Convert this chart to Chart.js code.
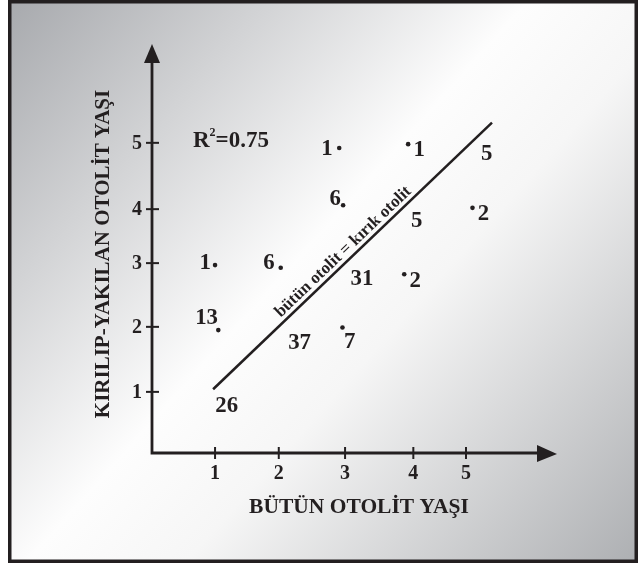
<!DOCTYPE html>
<html>
<head>
<meta charset="utf-8">
<script src="https://cdn.jsdelivr.net/npm/chart.js@4"></script>
<style>
  body { margin: 0; background: #fff; }
</style>
</head>
<body>
<canvas id="yasChart" width="638" height="563"></canvas>
<script>
// eksen birimleri: 1 birim = bir tik aralığı (yaklaşık), tikler resimdeki yerlerinde
var xTickLabels = ['1', '2', '3', '4', '5'];
var xTickAt = [0.97, 1.95, 2.97, 4.02, 4.83];
var yTickLabels = ['1', '2', '3', '4', '5'];
var yTickAt = [0.94, 1.94, 2.92, 3.75, 4.77];

// balık sayıları (nokta yanındaki rakamlar)
var countLabels = ['1', '1', '5', '6', '5', '2', '1', '6', '31', '2', '13', '37', '7', '26'];
var labelX = [2.69, 4.11, 5.15, 2.82, 4.07, 5.10, 0.82, 1.80, 3.23, 4.05, 0.84, 2.27, 3.04, 1.15];
var labelY = [4.69, 4.68, 4.62, 3.93, 3.59, 3.69, 2.94, 2.94, 2.69, 2.66, 2.09, 1.71, 1.73, 0.74];

// küçük noktalar
var dotX = [2.88, 3.94, 2.94, 4.93, 0.97, 1.98, 3.88, 1.02, 2.93];
var dotY = [4.69, 4.75, 3.81, 3.77, 2.89, 2.85, 2.75, 1.89, 1.93];

// bütün otolit = kırık otolit doğrusu
var lineX = [0.94, 5.23];
var lineY = [0.98, 5.08];
var lineText = 'bütün otolit = kırık otolit';
var r2Value = '0.75';

var ink = '#231f20';
var serif = '"Liberation Serif", "DejaVu Serif", serif';

function pts(xs, ys) {
    var out = [];
    for (var i = 0; i < xs.length; i++) out.push({x: xs[i], y: ys[i]});
    return out;
}

var plugin = {
    id: 'cizim',
    beforeDraw: function(chart) {//arka plan + çerçeve
        var c = chart.ctx;
        var W = chart.width, H = chart.height;
        c.save();
        c.fillStyle = '#ffffff';
        c.fillRect(0, 0, W, H);
        var g = c.createLinearGradient(8, 0, W, H);
        g.addColorStop(0, '#a7a9ad');
        g.addColorStop(0.46, '#fdfdfd');
        g.addColorStop(0.6, '#f6f6f6');
        g.addColorStop(1, '#adafb2');
        c.fillStyle = g;
        c.fillRect(8, 0, W - 8, H);
        c.strokeStyle = ink;
        c.lineWidth = 3.5;
        c.strokeRect(9.75, 1.75, W - 11.5, H - 3.5);
        c.restore();
    },
    afterDatasetsDraw: function(chart) {
        var c = chart.ctx;
        var xs = chart.scales.x, ys = chart.scales.y;
        var x0 = xs.getPixelForValue(0), y0 = ys.getPixelForValue(0);
        var xEnd = xs.getPixelForValue(xs.max), yEnd = ys.getPixelForValue(ys.max);
        c.save();
        c.strokeStyle = ink;
        c.fillStyle = ink;
        c.lineWidth = 2.8;
        // eksenler
        c.beginPath();
        c.moveTo(x0, yEnd + 16);
        c.lineTo(x0, y0);
        c.lineTo(xEnd - 16, y0);
        c.stroke();
        // oklar
        c.beginPath();
        c.moveTo(x0, yEnd);
        c.lineTo(x0 - 8, yEnd + 19);
        c.lineTo(x0 + 8, yEnd + 19);
        c.closePath();
        c.fill();
        c.beginPath();
        c.moveTo(xEnd, y0 + 1);
        c.lineTo(xEnd - 20, y0 - 8);
        c.lineTo(xEnd - 20, y0 + 9);
        c.closePath();
        c.fill();
        // tikler
        c.lineWidth = 2;
        c.font = 'bold 20px ' + serif;
        for (var i = 0; i < xTickAt.length; i++) {
            var px = xs.getPixelForValue(xTickAt[i]);
            c.beginPath();
            c.moveTo(px, y0 - 6);
            c.lineTo(px, y0 + 6);
            c.stroke();
            c.textAlign = 'center';
            c.textBaseline = 'top';
            c.fillText(xTickLabels[i], px, y0 + 11);
        }
        for (var j = 0; j < yTickAt.length; j++) {
            var py = ys.getPixelForValue(yTickAt[j]);
            c.beginPath();
            c.moveTo(x0 - 6, py);
            c.lineTo(x0 + 7, py);
            c.stroke();
            c.textAlign = 'right';
            c.textBaseline = 'middle';
            c.fillText(yTickLabels[j], x0 - 10, py + 1);
        }
        // eksen başlıkları
        c.font = 'bold 21.5px ' + serif;
        c.textAlign = 'center';
        c.textBaseline = 'middle';
        c.fillText('BÜTÜN OTOLİT YAŞI', x0 + 207, y0 + 54);
        c.save();
        c.translate(x0 - 48, yEnd + 210);
        c.rotate(-Math.PI / 2);
        c.font = 'bold 21px ' + serif;
        c.fillText('KIRILIP-YAKILAN OTOLİT YAŞI', 0, 0);
        c.restore();
        // sayılar
        var meta = chart.getDatasetMeta(2);
        c.font = 'bold 24px ' + serif;
        meta.data.forEach(function(el, k) {
            c.save();
            c.translate(el.x, el.y + 1);
            c.scale(0.95, 1);
            c.fillText(countLabels[k], 0, 0);
            c.restore();
        });
        // R2
        var rx = xs.getPixelForValue(0.63), ry = ys.getPixelForValue(4.83);
        c.textAlign = 'left';
        c.textBaseline = 'alphabetic';
        c.font = 'bold 23px ' + serif;
        c.fillText('R', rx, ry + 8);
        var rw = c.measureText('R').width;
        c.font = 'bold 12px ' + serif;
        c.fillText('2', rx + rw, ry - 3);
        c.font = 'bold 23px ' + serif;
        c.fillText('=' + r2Value, rx + rw + 6, ry + 8);
        // doğru üstündeki yazı
        var ax = xs.getPixelForValue(lineX[0]), ay = ys.getPixelForValue(lineY[0]);
        var bx = xs.getPixelForValue(lineX[1]), by = ys.getPixelForValue(lineY[1]);
        var t = 0.49;
        var ang = Math.atan2(by - ay, bx - ax);
        c.save();
        c.translate(ax + t * (bx - ax), ay + t * (by - ay));
        c.rotate(ang);
        c.font = 'bold 17px ' + serif;
        c.textAlign = 'center';
        c.textBaseline = 'alphabetic';
        c.fillText(lineText, 0, -5);
        c.restore();
        c.restore();
    }
};

var ctx = document.getElementById('yasChart').getContext('2d');
var yasChart = new Chart(ctx, {
    type: 'scatter',
    data: {
        datasets: [{
            type: 'line',
            label: 'esitlik',
            data: pts(lineX, lineY),
            borderColor: ink,
            borderWidth: 2.5,
            pointRadius: 0,
            fill: false
        }, {
            label: 'noktalar',
            data: pts(dotX, dotY),
            backgroundColor: ink,
            borderWidth: 0,
            pointRadius: 2.3
        }, {
            label: 'sayilar',
            data: pts(labelX, labelY),
            pointRadius: 0
        }]
    },
    options: {
        responsive: false,
        animation: false,
        layout: {
            padding: {left: 152, right: 81, top: 44, bottom: 110}
        },
        plugins: {
            legend: {display: false},
            tooltip: {enabled: false}
        },
        scales: {
            x: {type: 'linear', min: 0, max: 6.23, display: false},
            y: {type: 'linear', min: 0, max: 6.29, display: false}
        }
    },
    plugins: [plugin]
});
</script>
</body>
</html>
